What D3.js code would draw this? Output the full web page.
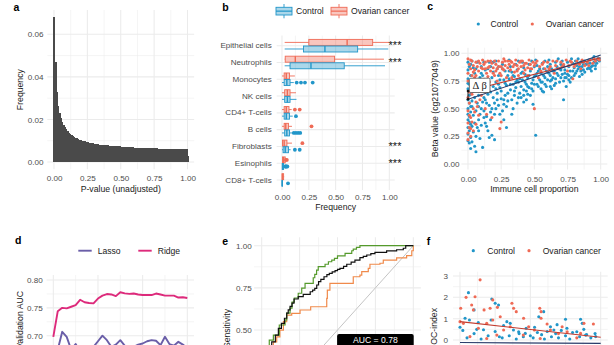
<!DOCTYPE html>
<html>
<head>
<meta charset="utf-8">
<script src="https://cdn.jsdelivr.net/npm/d3@7"></script>
<style>
  body { margin: 0; background: #fff; }
  svg text { font-family: "Liberation Sans", Arial, Helvetica, sans-serif; }
</style>
</head>
<body>
<div id="chart"></div>
<script>

// ---------- data ----------

// a: histogram of p-values, bins of 0.01 centred on 0, 0.01, ... 1.00
let histValues = [
    0.068, 0.047, 0.033, 0.0265, 0.023, 0.0205, 0.0188, 0.0175, 0.0163, 0.0153,
    0.0145, 0.0138, 0.0132, 0.0127, 0.0122, 0.0118, 0.0114, 0.0111, 0.0108, 0.0105,
    0.0103, 0.0101, 0.0099, 0.0097, 0.0095, 0.0093, 0.0091, 0.0090, 0.0088, 0.0087,
    0.0086, 0.0085, 0.0084, 0.0083, 0.0082, 0.0081, 0.0080, 0.0080, 0.0079, 0.0078,
    0.0078, 0.0077, 0.0076, 0.0076, 0.0075, 0.0075, 0.0074, 0.0074, 0.0073, 0.0073,
    0.0072, 0.0072, 0.0071, 0.0071, 0.0070, 0.0070, 0.0070, 0.0069, 0.0069, 0.0069,
    0.0068, 0.0068, 0.0068, 0.0067, 0.0067, 0.0067, 0.0066, 0.0066, 0.0066, 0.0066,
    0.0065, 0.0065, 0.0065, 0.0065, 0.0064, 0.0064, 0.0064, 0.0064, 0.0063, 0.0063,
    0.0063, 0.0063, 0.0063, 0.0062, 0.0062, 0.0062, 0.0062, 0.0062, 0.0061, 0.0061,
    0.0061, 0.0061, 0.0061, 0.0061, 0.0060, 0.0060, 0.0060, 0.0060, 0.0060, 0.0060,
    0.0030
];

// b: cell type proportions, [lower whisker, q1, median, q3, upper whisker]
let cellTypes = ["Epithelial cells", "Neutrophils", "Monocytes", "NK cells", "CD4+ T-cells",
    "B cells", "Fibroblasts", "Esinophils", "CD8+ T-cells"];
let caseStats = [
    [0.025, 0.25, 0.607, 0.845, 1.0],
    [0.025, 0.03, 0.124, 0.49, 0.95],
    [0.0, 0.02, 0.04, 0.07, 0.12],
    [0.0, 0.025, 0.05, 0.075, 0.13],
    [0.0, 0.02, 0.04, 0.065, 0.09],
    [0.0, 0.02, 0.035, 0.06, 0.093],
    [0.0, 0.005, 0.02, 0.046, 0.093],
    [0.0, 0.005, 0.015, 0.03, 0.03],
    [0.0, 0.0, 0.005, 0.015, 0.02]
];
let caseOutliers = [[], [], [], [], [0.12, 0.165], [0.275], [0.19], [0.037, 0.045], []];
let ctrlStats = [
    [0.025, 0.20, 0.40, 0.705, 0.99],
    [0.025, 0.075, 0.27, 0.58, 0.96],
    [0.0, 0.02, 0.045, 0.075, 0.11],
    [0.0, 0.025, 0.05, 0.075, 0.135],
    [0.0, 0.02, 0.04, 0.07, 0.1],
    [0.0, 0.025, 0.045, 0.07, 0.1],
    [0.0, 0.01, 0.03, 0.06, 0.08],
    [0.0, 0.002, 0.008, 0.015, 0.025],
    [0.0, 0.0, 0.002, 0.005, 0.008]
];
let ctrlOutliers = [[], [], [0.137, 0.177, 0.214, 0.286], [], [0.13], [0.11, 0.13, 0.15, 0.17],
    [0.12, 0.165], [0.03, 0.035, 0.04, 0.05], [0.056]];
let significant = ["Epithelial cells", "Neutrophils", "Fibroblasts", "Esinophils"];

// c: immune cell proportion vs beta value
let ctrlPoints = [
    [0.0,0.92],[0.01,0.88],[0.0,0.85],[0.02,0.80],[0.0,0.77],[0.01,0.72],[0.0,0.68],[0.02,0.63],[0.0,0.58],[0.01,0.55],
    [0.0,0.50],[0.02,0.47],[0.01,0.43],[0.0,0.40],[0.02,0.36],[0.0,0.33],[0.01,0.30],[0.0,0.27],[0.02,0.24],[0.0,0.21],
    [0.01,0.19],[0.02,0.14],[0.0,0.45],[0.01,0.62],[0.0,0.73],[0.02,0.90],
    [0.03,0.93],[0.04,0.87],[0.05,0.82],[0.03,0.76],[0.06,0.71],[0.04,0.66],[0.05,0.60],[0.07,0.55],[0.03,0.52],[0.06,0.48],
    [0.04,0.44],[0.08,0.40],[0.05,0.37],[0.07,0.33],[0.04,0.29],[0.06,0.25],[0.09,0.23],[0.06,0.11],[0.08,0.62],[0.09,0.78],
    [0.10,0.88],[0.08,0.70],[0.10,0.50],[0.09,0.45],[0.07,0.92],[0.10,0.35],[0.03,0.57],
    [0.11,0.15],[0.12,0.92],[0.13,0.85],[0.11,0.80],[0.14,0.74],[0.12,0.68],[0.15,0.63],[0.13,0.58],[0.16,0.53],[0.12,0.48],
    [0.14,0.43],[0.17,0.40],[0.13,0.37],[0.15,0.30],[0.18,0.26],[0.16,0.24],[0.19,0.70],[0.18,0.78],[0.17,0.88],[0.19,0.60],
    [0.20,0.55],[0.18,0.50],[0.20,0.45],[0.16,0.92],[0.19,0.83],[0.15,0.67],[0.11,0.56],[0.20,0.22],
    [0.21,0.93],[0.22,0.86],[0.23,0.80],[0.21,0.74],[0.24,0.69],[0.22,0.64],[0.25,0.59],[0.23,0.53],[0.26,0.48],[0.24,0.45],
    [0.27,0.40],[0.29,0.33],[0.26,0.90],[0.28,0.84],[0.27,0.76],[0.29,0.71],[0.28,0.62],[0.30,0.57],[0.25,0.66],[0.30,0.80],
    [0.29,0.52],[0.23,0.72],
    [0.31,0.94],[0.32,0.88],[0.33,0.83],[0.31,0.77],[0.34,0.72],[0.32,0.67],[0.35,0.62],[0.33,0.58],[0.36,0.90],[0.37,0.85],
    [0.35,0.79],[0.38,0.74],[0.36,0.69],[0.39,0.64],[0.37,0.55],[0.34,0.50],[0.40,0.82],[0.39,0.77],[0.38,0.93],[0.40,0.70],
    [0.33,0.45],[0.40,0.60],
    [0.41,0.92],[0.42,0.87],[0.43,0.81],[0.41,0.76],[0.44,0.72],[0.42,0.67],[0.45,0.63],[0.46,0.90],[0.47,0.84],[0.45,0.78],
    [0.48,0.73],[0.46,0.69],[0.49,0.66],[0.49,0.54],[0.50,0.88],[0.48,0.93],[0.50,0.79],[0.44,0.58],[0.47,0.62],
    [0.51,0.26],[0.51,0.94],[0.52,0.89],[0.53,0.84],[0.51,0.80],[0.54,0.76],[0.52,0.72],[0.55,0.68],[0.56,0.91],[0.57,0.86],
    [0.55,0.82],[0.58,0.78],[0.56,0.74],[0.59,0.70],[0.60,0.88],[0.58,0.93],[0.60,0.83],[0.57,0.65],
    [0.61,0.94],[0.62,0.90],[0.63,0.86],[0.61,0.82],[0.64,0.78],[0.62,0.75],[0.65,0.71],[0.66,0.92],[0.67,0.88],[0.65,0.84],
    [0.68,0.80],[0.66,0.77],[0.69,0.74],[0.70,0.90],[0.68,0.95],[0.70,0.85],[0.63,0.68],
    [0.72,0.58],[0.71,0.93],[0.72,0.89],[0.73,0.85],[0.71,0.81],[0.74,0.78],[0.72,0.75],[0.75,0.92],[0.76,0.88],[0.77,0.84],
    [0.75,0.81],[0.78,0.78],[0.79,0.91],[0.80,0.87],[0.78,0.95],[0.74,0.70],[0.77,0.74],
    [0.81,0.93],[0.82,0.89],[0.83,0.86],[0.81,0.82],[0.84,0.79],[0.85,0.92],[0.86,0.88],[0.87,0.85],[0.88,0.93],[0.89,0.90],
    [0.90,0.86],[0.86,0.81],[0.83,0.95],[0.88,0.83],
    [0.91,0.94],[0.92,0.91],[0.93,0.88],[0.94,0.95],[0.95,0.92],[0.96,0.89],[0.97,0.94],[0.98,0.96],[0.93,0.84],[0.96,0.86],
    [0.99,0.93],[0.91,0.87],[0.95,0.97],
    [0.26,0.86],[0.31,0.84],[0.34,0.80],[0.37,0.76],[0.41,0.83],[0.43,0.74],[0.46,0.80],[0.49,0.76],[0.52,0.82],[0.54,0.86],
    [0.57,0.80],[0.59,0.84],[0.62,0.80],[0.64,0.84],[0.67,0.82],[0.69,0.86],[0.71,0.88],[0.73,0.82],[0.76,0.80],[0.79,0.84],
    [0.82,0.84],[0.84,0.88],[0.87,0.90],[0.90,0.91],[0.92,0.86],[0.94,0.89],[0.97,0.91],[0.99,0.95],[0.35,0.66],[0.38,0.60],
    [0.42,0.62],[0.45,0.70],[0.48,0.68],[0.53,0.70],[0.56,0.66],[0.60,0.76],[0.66,0.73],[0.30,0.64],[0.27,0.58],[0.22,0.58],
    [0.17,0.65],[0.14,0.55],[0.12,0.60],[0.08,0.52],[0.05,0.68],[0.13,0.72],[0.21,0.68],[0.24,0.76],[0.28,0.73],[0.32,0.72],
    [0.36,0.74],[0.44,0.66],[0.50,0.72],[0.55,0.74],[0.58,0.72],[0.63,0.76],[0.73,0.78],[0.80,0.80],[0.85,0.84],[0.10,0.82],
    [0.06,0.86],[0.15,0.86],[0.19,0.92],[0.23,0.88],[0.04,0.74],[0.02,0.52],[0.01,0.38],[0.03,0.34],[0.12,0.42],[0.17,0.47],
    [0.21,0.50],[0.27,0.54],[0.42,0.56],[0.62,0.70],[0.70,0.78],[0.76,0.76],[0.08,0.30],[0.14,0.34],[0.03,0.20],[0.05,0.16]
];
let casePoints = [
    [0.0,0.95],[0.01,0.90],[0.02,0.86],[0.0,0.82],[0.03,0.93],[0.04,0.89],[0.05,0.85],[0.03,0.80],[0.06,0.92],[0.07,0.88],
    [0.05,0.78],[0.08,0.84],[0.09,0.91],[0.10,0.87],[0.0,0.75],[0.02,0.70],
    [0.0,0.60],[0.01,0.55],[0.0,0.48],[0.02,0.42],[0.0,0.37],[0.01,0.33],[0.0,0.28],[0.02,0.25],[0.0,0.22],[0.01,0.65],
    [0.03,0.38],[0.04,0.30],[0.05,0.47],[0.07,0.52],[0.08,0.44],[0.06,0.36],[0.09,0.58],
    [0.11,0.94],[0.12,0.90],[0.13,0.86],[0.14,0.82],[0.15,0.93],[0.16,0.88],[0.17,0.84],[0.18,0.91],[0.19,0.87],[0.20,0.80],
    [0.12,0.76],[0.16,0.74],[0.14,0.45],[0.18,0.42],[0.13,0.50],[0.20,0.93],
    [0.21,0.90],[0.22,0.86],[0.23,0.93],[0.24,0.82],[0.25,0.88],[0.26,0.92],[0.27,0.85],[0.28,0.89],[0.29,0.78],[0.30,0.93],
    [0.24,0.32],[0.25,0.38],[0.22,0.75],[0.27,0.95],
    [0.31,0.90],[0.32,0.85],[0.33,0.92],[0.34,0.88],[0.35,0.83],[0.36,0.94],[0.37,0.89],[0.38,0.86],[0.39,0.92],[0.40,0.88],
    [0.33,0.78],[0.38,0.80],
    [0.41,0.93],[0.42,0.89],[0.43,0.85],[0.44,0.91],[0.45,0.87],[0.46,0.94],[0.47,0.90],[0.48,0.86],[0.49,0.92],[0.50,0.50],
    [0.45,0.80],[0.50,0.89],
    [0.52,0.93],[0.54,0.88],[0.56,0.90],[0.58,0.86],[0.60,0.92],[0.62,0.88],[0.64,0.93],[0.66,0.89],[0.68,0.86],[0.70,0.92],
    [0.55,0.84],[0.65,0.82],[0.53,0.78],[0.79,0.77],
    [0.72,0.90],[0.74,0.94],[0.76,0.89],[0.78,0.92],[0.80,0.88],[0.82,0.93],[0.84,0.90],[0.86,0.94],[0.88,0.89],[0.90,0.92],
    [0.92,0.94],[0.94,0.91],[0.96,0.93],[0.98,0.95],[0.85,0.86],[0.75,0.84],
    [0.02,0.94],[0.04,0.83],[0.06,0.80],[0.08,0.93],[0.11,0.86],[0.13,0.92],[0.15,0.87],[0.17,0.93],[0.19,0.82],[0.21,0.84],
    [0.23,0.88],[0.26,0.86],[0.28,0.93],[0.30,0.87],[0.32,0.93],[0.35,0.90],[0.37,0.84],[0.40,0.93],[0.43,0.91],[0.47,0.86],
    [0.51,0.91],[0.57,0.92],[0.61,0.86],[0.67,0.93],[0.71,0.88],[0.77,0.93],[0.81,0.90],[0.87,0.92],[0.91,0.89],[0.95,0.95],
    [0.99,0.94],[0.03,0.63],[0.01,0.44],[0.06,0.56],[0.10,0.62],[0.04,0.50],[0.02,0.32],[0.15,0.79],[0.25,0.80],[0.42,0.82]
];
let ctrlFit = [[0, 0.585], [1, 0.985]];
let caseFit = [[0, 0.66], [1, 0.96]];

// d: validation AUC by step
let steps = d3.range(0, 31);
let ridgeAUC = [0.698, 0.744, 0.750, 0.749, 0.752, 0.755, 0.7645, 0.760, 0.7586, 0.758,
    0.7667, 0.772, 0.7748, 0.774, 0.771, 0.778, 0.776, 0.775, 0.7757, 0.774,
    0.773, 0.773, 0.773, 0.7757, 0.774, 0.772, 0.772, 0.772, 0.7685, 0.769, 0.7676];
let lassoAUC = [0.66, 0.675, 0.707, 0.698, 0.675, 0.685, 0.672, 0.670, 0.675, 0.680,
    0.690, 0.700, 0.692, 0.680, 0.684, 0.692, 0.682, 0.675, 0.680, 0.684,
    0.686, 0.690, 0.692, 0.691, 0.683, 0.698, 0.685, 0.682, 0.689, 0.684, 0.678];

// e: ROC curves [1 - specificity, sensitivity]
let rocGreen = [[0,0],[0,0.1],[0.01,0.1],[0.01,0.2],[0.02,0.2],[0.02,0.3],[0.04,0.3],[0.04,0.38],[0.05,0.38],[0.05,0.44],
    [0.077,0.44],[0.077,0.47],[0.116,0.47],[0.116,0.53],[0.154,0.53],[0.154,0.56],[0.165,0.56],[0.165,0.6],[0.187,0.6],
    [0.187,0.63],[0.2,0.63],[0.2,0.665],[0.215,0.665],[0.215,0.69],[0.241,0.69],[0.241,0.718],[0.264,0.718],[0.264,0.748],
    [0.286,0.748],[0.286,0.777],[0.34,0.777],[0.34,0.81],[0.35,0.81],[0.35,0.83],[0.362,0.83],[0.362,0.855],[0.373,0.855],
    [0.373,0.876],[0.418,0.876],[0.418,0.89],[0.44,0.89],[0.44,0.905],[0.462,0.905],[0.462,0.915],[0.48,0.915],[0.48,0.925],
    [0.5,0.925],[0.5,0.94],[0.55,0.94],[0.55,0.955],[0.594,0.955],[0.594,0.97],[0.604,0.97],[0.604,0.98],[0.625,0.98],
    [0.625,0.99],[0.648,0.99],[0.648,1],[1,1]];
let rocBlack = [[0,0],[0,0.12],[0.01,0.12],[0.01,0.22],[0.03,0.22],[0.03,0.32],[0.05,0.32],[0.05,0.38],[0.066,0.38],
    [0.066,0.43],[0.09,0.43],[0.09,0.47],[0.11,0.47],[0.11,0.51],[0.13,0.51],[0.13,0.54],[0.15,0.54],[0.15,0.57],[0.165,0.57],
    [0.165,0.6],[0.175,0.6],[0.175,0.62],[0.187,0.62],[0.187,0.64],[0.2,0.64],[0.2,0.66],[0.213,0.66],[0.213,0.684],
    [0.241,0.684],[0.241,0.698],[0.274,0.698],[0.274,0.712],[0.32,0.712],[0.32,0.727],[0.336,0.727],[0.336,0.737],
    [0.35,0.737],[0.35,0.747],[0.363,0.747],[0.363,0.767],[0.375,0.767],[0.375,0.787],[0.39,0.787],[0.39,0.8],[0.411,0.8],
    [0.411,0.816],[0.43,0.816],[0.43,0.828],[0.446,0.828],[0.446,0.836],[0.465,0.836],[0.465,0.845],[0.484,0.845],
    [0.484,0.852],[0.5,0.852],[0.5,0.86],[0.516,0.86],[0.516,0.866],[0.54,0.866],[0.54,0.878],[0.561,0.878],[0.561,0.89],
    [0.59,0.89],[0.59,0.903],[0.615,0.903],[0.615,0.915],[0.648,0.915],[0.648,0.929],[0.67,0.929],[0.67,0.937],[0.693,0.937],
    [0.693,0.945],[0.72,0.945],[0.72,0.953],[0.747,0.953],[0.747,0.961],[0.824,0.961],[0.824,0.969],[0.89,0.969],
    [0.89,0.976],[0.934,0.976],[0.934,0.985],[0.95,0.985],[0.95,1],[1,1]];
let rocOrange = [[0,0],[0,0.1],[0.02,0.1],[0.02,0.2],[0.04,0.2],[0.04,0.3],[0.06,0.3],[0.06,0.38],[0.077,0.38],[0.077,0.43],
    [0.099,0.43],[0.099,0.46],[0.12,0.46],[0.12,0.5],[0.143,0.5],[0.143,0.55],[0.165,0.55],[0.165,0.589],[0.198,0.589],
    [0.198,0.599],[0.253,0.599],[0.253,0.619],[0.323,0.619],[0.323,0.638],[0.429,0.638],[0.429,0.688],[0.433,0.688],
    [0.433,0.737],[0.45,0.737],[0.45,0.777],[0.604,0.777],[0.604,0.816],[0.648,0.816],[0.648,0.826],[0.66,0.826],
    [0.66,0.846],[0.703,0.846],[0.703,0.866],[0.714,0.866],[0.714,0.89],[0.78,0.89],[0.78,0.896],[0.802,0.896],[0.802,0.915],
    [0.89,0.915],[0.89,0.928],[0.956,0.928],[0.956,0.941],[0.99,0.941],[0.99,0.97],[1,0.97],[1,1]];
let aucLabel = {fpr: 0.75, tpr: 0.44, text: "AUC = 0.78"};

// f: WID-OC-index
let ctrlIndex = [
    [0.06,2.22],[0.0,0.6],[0.02,0.45],[0.036,1.02],[0.067,0.94],[0.1,1.41],[0.119,0.5],[0.167,0.48],[0.226,1.92],[0.25,1.72],
    [0.274,1.64],[0.221,0.94],[0.333,0.86],[0.357,0.78],[0.38,0.47],[0.417,0.39],[0.464,0.31],[0.56,1.09],[0.595,1.33],
    [0.643,0.62],[0.667,0.47],[0.75,0.97],[0.857,0.97],[0.869,0.78],[0.76,0.55],[0.893,0.23],[0.83,0.39],[0.964,0.16],
    [0.3,0.1],[0.35,0.2],[0.4,0.05],[0.42,0.3],[0.45,0.15],[0.5,0.2],[0.52,0.1],[0.55,0.35],[0.58,0.25],[0.6,0.05],
    [0.62,0.4],[0.65,0.15],[0.68,0.3],[0.7,0.1],[0.72,0.45],[0.75,0.2],[0.78,0.05],[0.8,0.35],[0.85,0.15],[0.88,0.5],
    [0.9,0.25],[0.93,0.1],[0.96,0.3],[0.05,0.1],[0.1,0.3],[0.15,0.05],[0.2,0.2],[0.25,0.4],[0.28,0.15],[0.47,0.55],
    [0.53,0.6],[0.69,0.72],[0.31,0.68],[0.13,0.82]
];
let caseIndex = [
    [0.005,1.49],[0.143,2.82],[0.043,2.0],[0.083,1.64],[0.107,2.03],[0.095,1.41],[0.171,1.41],[0.214,1.49],[0.233,1.88],
    [0.266,1.53],[0.286,1.09],[0.233,0.94],[0.369,1.72],[0.381,1.49],[0.4,1.33],[0.452,1.02],[0.567,1.49],[0.576,1.33],
    [0.576,1.02],[0.0,0.86],[0.024,0.78],[0.131,0.55],[0.19,0.78],[0.31,0.47],[0.357,0.62],[0.488,0.62],[0.529,0.47],
    [0.619,0.75],[0.643,0.47],[0.726,0.62],[0.762,0.39],[0.857,0.31],[0.881,0.78],[0.948,0.75],[0.071,0.16],[0.262,0.23],
    [0.45,0.23],[0.7,0.3],[0.83,0.1],[0.19,0.07],[0.57,0.07]
];
let caseIndexFit = [[0, 0.86], [1, 0.13]];
let ctrlIndexFit = [[0, -0.12], [1, -0.16]];

// ---------- styles ----------
let blue = "#2196c9", red = "#ef6a55";
let navy = "#2b3d6b", darkRed = "#c23b2e";
let tickColor = "#4d4d4d", gridColor = "#ebebeb";

let svg = d3.select("#chart").append("svg")
    .attr("width", 614)
    .attr("height", 345);

// helpers
function grid(box, x, y, xMajor, xMinor, yMajor, yMinor) {
    let g = svg.append("g");
    xMinor.forEach(v => g.append("line").attr("x1", x(v)).attr("x2", x(v)).attr("y1", box.t).attr("y2", box.b)
        .attr("stroke", gridColor).attr("stroke-width", 0.55));
    yMinor.forEach(v => g.append("line").attr("y1", y(v)).attr("y2", y(v)).attr("x1", box.l).attr("x2", box.r)
        .attr("stroke", gridColor).attr("stroke-width", 0.55));
    xMajor.forEach(v => g.append("line").attr("x1", x(v)).attr("x2", x(v)).attr("y1", box.t).attr("y2", box.b)
        .attr("stroke", gridColor).attr("stroke-width", 1.05));
    yMajor.forEach(v => g.append("line").attr("y1", y(v)).attr("y2", y(v)).attr("x1", box.l).attr("x2", box.r)
        .attr("stroke", gridColor).attr("stroke-width", 1.05));
}

function leftAxis(scale, values, fmt, xRight) {
    let ax = d3.axisLeft(scale).tickSize(0).tickPadding(0);
    if (values) ax.tickValues(values);
    if (fmt) ax.tickFormat(fmt);
    svg.append("g").attr("transform", `translate(${xRight},0)`)
        .call(ax)
        .call(a => a.select(".domain").remove())
        .selectAll("text")
        .attr("fill", tickColor)
        .style("font-size", "8.1px");
}

function bottomAxis(scale, values, fmt, baseline) {
    svg.append("g").attr("transform", `translate(0,${baseline})`)
        .call(d3.axisBottom(scale).tickValues(values).tickFormat(fmt).tickSize(0).tickPadding(0))
        .call(a => a.select(".domain").remove())
        .selectAll("text")
        .attr("dy", "0")
        .attr("fill", tickColor)
        .style("font-size", "8.1px");
}

function text(x, y, str, opts) {
    opts = opts || {};
    let t = svg.append("text")
        .attr("x", x).attr("y", y)
        .attr("text-anchor", opts.anchor || "start")
        .attr("fill", opts.color || "#1a1a1a")
        .style("font-size", (opts.size || 8.7) + "px")
        .text(str);
    if (opts.bold) t.style("font-weight", "bold");
    return t;
}

function yTitle(x, y, str, anchor) {
    svg.append("text")
        .attr("transform", `translate(${x},${y}) rotate(-90)`)
        .attr("text-anchor", anchor || "middle")
        .attr("fill", "#1a1a1a")
        .style("font-size", "8.7px")
        .text(str);
}

let f2 = d3.format(".2f");
let quarters = [0, 0.25, 0.5, 0.75, 1];
let eighths = [0.125, 0.375, 0.625, 0.875];

// ---------- a: histogram ----------
let xA = d3.scaleLinear().domain([0, 1]).range([54, 187.5]);
let yA = d3.scaleLinear().domain([0, 0.06]).range([162, 34.3]);
let boxA = {l: xA(-0.05), r: xA(1.05), t: yA(0.0714), b: yA(-0.0034)};
grid(boxA, xA, yA, quarters, eighths, [0, 0.02, 0.04, 0.06], [0.01, 0.03, 0.05]);

svg.append("g")
    .attr("shape-rendering", "crispEdges")
    .selectAll("rect")
    .data(histValues)
    .enter().append("rect")
    .attr("x", (d, i) => xA(i * 0.01 - 0.005))
    .attr("width", xA(0.01) - xA(0) + 0.7)
    .attr("y", d => yA(d))
    .attr("height", d => yA(0) - yA(d))
    .attr("fill", "#4a4a4a");

leftAxis(yA, [0, 0.02, 0.04, 0.06], f2, 43.5);
bottomAxis(xA, quarters, f2, 181);
text((boxA.l + boxA.r) / 2, 191.8, "P-value (unadjusted)", {anchor: "middle"});
yTitle(22.7, (boxA.t + boxA.b) / 2, "Frequency");
text(13.5, 10.5, "a", {bold: true, size: 10.5, color: "#000"});

// ---------- b: boxplots ----------
let xB = d3.scaleLinear().domain([0, 1]).range([282, 389.3]);
let yB = d3.scaleBand().domain(cellTypes).range([37.3, 188.4]);
let boxB = {l: xB(-0.05), r: xB(1.05), t: 35.6, b: 190};
grid(boxB, xB, d => yB(d) + yB.bandwidth() / 2, quarters, eighths, cellTypes, []);

function drawBoxes(stats, outliers, color, offset) {
    let g = svg.append("g");
    cellTypes.forEach((c, i) => {
        let s = stats[i];
        let yc = yB(c) + yB.bandwidth() / 2 + offset;
        g.append("line").attr("x1", xB(s[0])).attr("x2", xB(s[1])).attr("y1", yc).attr("y2", yc)
            .attr("stroke", color).attr("stroke-width", 0.9);
        g.append("line").attr("x1", xB(s[3])).attr("x2", xB(s[4])).attr("y1", yc).attr("y2", yc)
            .attr("stroke", color).attr("stroke-width", 0.9);
        g.append("rect")
            .attr("x", xB(s[1])).attr("width", Math.max(xB(s[3]) - xB(s[1]), 0.4))
            .attr("y", yc - 3).attr("height", 6)
            .attr("fill", color).attr("fill-opacity", 0.38)
            .attr("stroke", color).attr("stroke-width", 0.9);
        g.append("line").attr("x1", xB(s[2])).attr("x2", xB(s[2])).attr("y1", yc - 3).attr("y2", yc + 3)
            .attr("stroke", color).attr("stroke-width", 1.4);
        g.selectAll(null).data(outliers[i]).enter().append("circle")
            .attr("cx", d => xB(d)).attr("cy", yc).attr("r", 1.9)
            .attr("fill", color);
    });
}
drawBoxes(caseStats, caseOutliers, red, -3.3);
drawBoxes(ctrlStats, ctrlOutliers, blue, 3.3);

significant.forEach(c => {
    text(395, yB(c) + yB.bandwidth() / 2 + 3.4, "***", {anchor: "middle", size: 11, color: "#111"});
});

leftAxis(yB, null, null, 271.7);
bottomAxis(xB, quarters, f2, 200);
text((boxB.l + boxB.r) / 2, 210.3, "Frequency", {anchor: "middle"});
text(222.3, 10.7, "b", {bold: true, size: 10.5, color: "#000"});

// legend b (boxplot keys)
function boxKey(x, color) {
    let g = svg.append("g");
    g.append("line").attr("x1", x + 8).attr("x2", x + 8).attr("y1", 4).attr("y2", 18.3)
        .attr("stroke", color).attr("stroke-width", 0.9);
    g.append("rect").attr("x", x).attr("y", 7.3).attr("width", 16).attr("height", 7.7)
        .attr("fill", "#fff").attr("stroke", "none");
    g.append("rect").attr("x", x).attr("y", 7.3).attr("width", 16).attr("height", 7.7)
        .attr("fill", color).attr("fill-opacity", 0.38).attr("stroke", color).attr("stroke-width", 0.9);
    g.append("line").attr("x1", x).attr("x2", x + 16).attr("y1", 11.15).attr("y2", 11.15)
        .attr("stroke", color).attr("stroke-width", 1.2);
}
boxKey(276, blue);
text(296, 14.3, "Control", {size: 8.6});
boxKey(331, red);
text(351, 14.3, "Ovarian cancer", {size: 8.6});

// ---------- c: scatter ----------
let xC = d3.scaleLinear().domain([0, 1]).range([468, 600.7]);
let yC = d3.scaleLinear().domain([0, 1]).range([164, 53.3]);
let boxC = {l: xC(-0.05), r: xC(1.05), t: yC(1.05), b: yC(-0.05)};
grid(boxC, xC, yC, quarters, eighths, quarters, eighths);

svg.append("g").selectAll("circle")
    .data(ctrlPoints).enter().append("circle")
    .attr("cx", d => xC(d[0])).attr("cy", d => yC(d[1])).attr("r", 1.55)
    .attr("fill", blue);
svg.append("g").selectAll("circle")
    .data(casePoints).enter().append("circle")
    .attr("cx", d => xC(d[0])).attr("cy", d => yC(d[1])).attr("r", 1.55)
    .attr("fill", red);

let lineC = d3.line().x(d => xC(d[0])).y(d => yC(d[1]));
svg.append("path").attr("d", lineC(caseFit)).attr("stroke", darkRed).attr("stroke-width", 1.1).attr("fill", "none");
svg.append("path").attr("d", lineC(ctrlFit)).attr("stroke", navy).attr("stroke-width", 1.1).attr("fill", "none");

// delta beta marker at x = 0
svg.append("line")
    .attr("x1", xC(0)).attr("x2", xC(0))
    .attr("y1", yC(ctrlFit[0][1])).attr("y2", yC(caseFit[0][1]))
    .attr("stroke", "#111").attr("stroke-width", 0.9);
[ctrlFit[0], caseFit[0]].forEach(p => {
    svg.append("circle").attr("cx", xC(p[0])).attr("cy", yC(p[1])).attr("r", 1.3).attr("fill", "#111");
});
svg.append("rect")
    .attr("x", xC(0.01)).attr("y", yC(0.775))
    .attr("width", 20.7).attr("height", 14.3).attr("rx", 1.5)
    .attr("fill", "#fff").attr("stroke", "#333").attr("stroke-width", 0.7);
svg.append("text")
    .attr("x", xC(0.01) + 10.35).attr("y", yC(0.775) + 10.6)
    .attr("text-anchor", "middle")
    .style("font-family", "'Liberation Serif', 'DejaVu Serif', serif")
    .style("font-size", "10.5px")
    .attr("fill", "#222")
    .text("\u0394 \u03b2");

leftAxis(yC, quarters, f2, 459.5);
bottomAxis(xC, quarters, f2, 181.5);
text((boxC.l + boxC.r) / 2, 192, "Immune cell proportion", {anchor: "middle"});
yTitle(438.3, (boxC.t + boxC.b) / 2, "Beta value (cg21077049)");
text(427.3, 10.3, "c", {bold: true, size: 10.5, color: "#000"});

svg.append("circle").attr("cx", 478.3).attr("cy", 24).attr("r", 1.6).attr("fill", blue);
text(490.5, 27.1, "Control", {size: 8.6});
svg.append("circle").attr("cx", 532.3).attr("cy", 24).attr("r", 1.6).attr("fill", red);
text(545.7, 27.1, "Ovarian cancer", {size: 8.6});

// ---------- d: validation AUC ----------
let xD = d3.scaleLinear().domain([0, 30]).range([53.3, 187.3]);
let yD = d3.scaleLinear().domain([0.70, 0.80]).range([335.7, 280]);
let boxD = {l: xD(-1.5), r: xD(31.5), t: 275, b: 400};
grid(boxD, xD, yD, [0, 10, 20, 30], [5, 15, 25], [0.65, 0.70, 0.75, 0.80], [0.675, 0.725, 0.775]);

let lineD = d3.line().x((d, i) => xD(steps[i])).y(d => yD(d));
svg.append("path").attr("d", lineD(lassoAUC)).attr("stroke", "#6a5ea8").attr("stroke-width", 1.9)
    .attr("fill", "none").attr("stroke-linejoin", "round");
svg.append("path").attr("d", lineD(ridgeAUC)).attr("stroke", "#dd2a7b").attr("stroke-width", 1.9)
    .attr("fill", "none").attr("stroke-linejoin", "round");

leftAxis(yD, [0.70, 0.75, 0.80], f2, 42.7);
yTitle(23, 291, "Validation AUC", "end");
text(15, 244, "d", {bold: true, size: 10.5, color: "#000"});

svg.append("line").attr("x1", 78.3).attr("x2", 91.7).attr("y1", 250.7).attr("y2", 250.7)
    .attr("stroke", "#6a5ea8").attr("stroke-width", 1.9);
text(97.7, 253.8, "Lasso", {size: 8.6});
svg.append("line").attr("x1", 138.3).attr("x2", 151.7).attr("y1", 250.7).attr("y2", 250.7)
    .attr("stroke", "#dd2a7b").attr("stroke-width", 1.9);
text(157.7, 253.8, "Ridge", {size: 8.6});

// ---------- e: ROC ----------
let xE = d3.scaleLinear().domain([0, 1]).range([261.7, 413.3]);
let yE = d3.scaleLinear().domain([0, 1]).range([414.4, 245.7]);
let boxE = {l: xE(-0.05), r: xE(1.05), t: yE(1.05), b: 400};
grid(boxE, xE, yE, quarters, eighths, quarters, eighths);

let lineE = d3.line().x(d => xE(d[0])).y(d => yE(d[1]));
svg.append("path").attr("d", lineE([[0, 0], [1, 1]])).attr("stroke", "#bdbdbd").attr("stroke-width", 0.9).attr("fill", "none");
svg.append("path").attr("d", lineE(rocOrange)).attr("stroke", "#f08a4b").attr("stroke-width", 1.2).attr("fill", "none");
svg.append("path").attr("d", lineE(rocGreen)).attr("stroke", "#559a2c").attr("stroke-width", 1.2).attr("fill", "none");
svg.append("path").attr("d", lineE(rocBlack)).attr("stroke", "#111").attr("stroke-width", 1.2).attr("fill", "none");

svg.append("rect")
    .attr("x", xE(aucLabel.fpr) - 38.3).attr("y", yE(aucLabel.tpr) - 6.2)
    .attr("width", 76.6).attr("height", 13).attr("rx", 2)
    .attr("fill", "#000");
text(xE(aucLabel.fpr), yE(aucLabel.tpr) + 3.2, aucLabel.text, {anchor: "middle", color: "#fff", size: 8.6});

leftAxis(yE, [0.5, 0.75, 1], f2, 251.7);
yTitle(229.5, 309, "Sensitivity", "end");
text(222.3, 245, "e", {bold: true, size: 10.5, color: "#000"});

// ---------- f: WID-OC-index ----------
let xF = d3.scaleLinear().domain([0, 1]).range([460, 600.7]);
let yF = d3.scaleLinear().domain([0, 3]).range([340, 276]);
let boxF = {l: xF(-0.05), r: xF(1.05), t: yF(3.2), b: 400};
grid(boxF, xF, yF, quarters, eighths, [0, 1, 2, 3], [0.5, 1.5, 2.5]);

svg.append("g").selectAll("circle")
    .data(ctrlIndex).enter().append("circle")
    .attr("cx", d => xF(d[0])).attr("cy", d => yF(d[1])).attr("r", 1.55)
    .attr("fill", blue);
svg.append("g").selectAll("circle")
    .data(caseIndex).enter().append("circle")
    .attr("cx", d => xF(d[0])).attr("cy", d => yF(d[1])).attr("r", 1.55)
    .attr("fill", red);

let lineF = d3.line().x(d => xF(d[0])).y(d => yF(d[1]));
svg.append("path").attr("d", lineF(caseIndexFit)).attr("stroke", darkRed).attr("stroke-width", 1.1).attr("fill", "none");
svg.append("path").attr("d", lineF(ctrlIndexFit)).attr("stroke", navy).attr("stroke-width", 1.1).attr("fill", "none");

leftAxis(yF, [0, 1, 2, 3], d3.format("d"), 448);
yTitle(436.7, 308, "WID-OC-index", "end");
text(426.7, 245, "f", {bold: true, size: 10.5, color: "#000"});

svg.append("circle").attr("cx", 473.3).attr("cy", 250.7).attr("r", 1.6).attr("fill", blue);
text(487.3, 253.8, "Control", {size: 8.6});
svg.append("circle").attr("cx", 529).attr("cy", 250.7).attr("r", 1.6).attr("fill", red);
text(542.7, 253.8, "Ovarian cancer", {size: 8.6});

</script>
</body>
</html>
